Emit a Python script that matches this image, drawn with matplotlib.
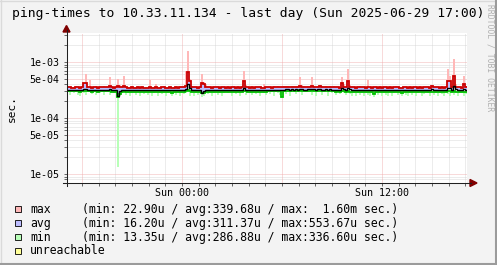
import numpy as np
import matplotlib
matplotlib.use('Agg')
import matplotlib.pyplot as plt
from matplotlib.lines import Line2D
from matplotlib.patches import Rectangle, Polygon
from matplotlib.ticker import FixedLocator, FixedFormatter, NullFormatter

W, H = 497, 265

# ---------------- data ----------------
title = "ping-times to 10.33.11.134 - last day (Sun 2025-06-29 17:00)"
ylabel = "sec."
watermark = "RRDTOOL / TOBI OETIKER"
t_start_h = -6.9      # hours relative to Sun 00:00
step_h = 0.12         # 7.2 min per sample

# microseconds
max_line = [
    352, 355, 348, 350, 356, 352, 349, 353, 420, 420, 360, 352, 350, 355, 358, 350, 353, 351, 356, 352,
    355, 377, 352, 350, 351, 370, 362, 355, 375, 352, 349, 350, 353, 348, 350, 352, 349, 351, 347, 350,
    348, 352, 350, 349, 351, 347, 350, 352, 365, 349, 348, 351, 347, 350, 352, 349, 351, 353, 355, 372,
    663, 450, 360, 355, 352, 350, 356, 422, 400, 360, 354, 352, 350, 353, 351, 355, 349, 352, 354, 350,
    352, 349, 351, 355, 350, 352, 348, 354, 452, 365, 352, 350, 353, 349, 351, 355, 352, 350, 348, 353,
    351, 354, 350, 356, 352, 358, 355, 353, 356, 360, 358, 355, 359, 357, 361, 356, 375, 360, 357, 355,
    358, 362, 377, 360, 356, 359, 368, 357, 355, 358, 356, 360, 354, 357, 352, 355, 350, 420, 365, 355,
    460, 362, 356, 353, 350, 352, 355, 351, 354, 349, 352, 356, 350, 353, 351, 349, 352, 350, 354, 351,
    350, 353, 349, 351, 355, 352, 350, 348, 353, 351, 349, 352, 350, 354, 351, 349, 353, 350, 352, 355,
    352, 350, 375, 353, 351, 354, 350, 352, 349, 353, 463, 463, 358, 570, 362, 355, 353, 350, 405, 360,
]
avg_line = [
    316, 318, 315, 317, 319, 316, 314, 317, 335, 330, 318, 316, 315, 318, 317, 314, 316, 315, 318, 316,
    317, 325, 315, 314, 316, 250, 300, 312, 322, 316, 313, 315, 317, 312, 314, 316, 313, 315, 311, 314,
    313, 316, 314, 312, 315, 311, 314, 316, 322, 313, 312, 315, 311, 314, 316, 313, 315, 317, 318, 330,
    400, 340, 322, 318, 315, 313, 318, 283, 300, 318, 316, 315, 313, 316, 314, 318, 312, 315, 317, 313,
    315, 312, 314, 318, 313, 315, 311, 317, 340, 322, 315, 313, 316, 312, 314, 318, 315, 313, 311, 316,
    314, 317, 313, 319, 316, 322, 320, 318, 321, 325, 323, 320, 324, 322, 326, 321, 335, 325, 322, 320,
    323, 327, 335, 325, 321, 324, 330, 322, 320, 323, 321, 325, 318, 321, 316, 319, 314, 345, 328, 318,
    350, 325, 319, 316, 313, 315, 318, 314, 317, 312, 315, 319, 313, 316, 314, 312, 315, 313, 317, 314,
    313, 316, 312, 314, 318, 315, 313, 311, 316, 314, 312, 315, 313, 317, 314, 312, 316, 313, 315, 318,
    315, 313, 328, 316, 314, 317, 313, 315, 312, 316, 345, 340, 320, 380, 325, 318, 316, 313, 335, 320,
]
min_line = [
    300, 302, 298, 300, 303, 299, 297, 301, 305, 303, 300, 298, 297, 300, 302, 296, 299, 298, 301, 299,
    298, 300, 296, 295, 297, 240, 270, 292, 298, 294, 291, 293, 295, 289, 292, 294, 290, 292, 288, 291,
    289, 292, 290, 287, 291, 286, 289, 292, 295, 288, 286, 290, 285, 288, 291, 287, 290, 292, 294, 300,
    310, 300, 292, 290, 288, 286, 290, 275, 285, 292, 290, 289, 287, 290, 288, 292, 286, 289, 291, 287,
    295, 292, 294, 297, 293, 295, 291, 296, 305, 299, 295, 293, 296, 292, 294, 297, 295, 293, 291, 296,
    300, 303, 298, 304, 301, 305, 303, 235, 300, 305, 303, 300, 306, 304, 308, 303, 310, 306, 303, 301,
    304, 308, 310, 305, 301, 304, 307, 302, 300, 303, 301, 305, 298, 301, 296, 299, 294, 305, 300, 297,
    305, 297, 293, 290, 287, 289, 292, 288, 291, 286, 289, 292, 287, 265, 288, 286, 289, 287, 291, 288,
    287, 290, 286, 288, 292, 289, 287, 285, 290, 288, 286, 289, 287, 291, 288, 286, 290, 287, 289, 292,
    289, 287, 295, 290, 288, 291, 287, 289, 286, 290, 300, 298, 292, 305, 294, 290, 288, 286, 296, 290,
]
max_peak = [
    358, 362, 352, 355, 375, 356, 352, 358, 430, 610, 365, 470, 356, 362, 380, 354, 358, 356, 378, 356,
    360, 533, 356, 354, 358, 497, 385, 360, 570, 356, 352, 356, 370, 352, 354, 360, 352, 358, 350, 354,
    352, 470, 356, 354, 405, 350, 354, 358, 380, 354, 352, 358, 350, 354, 358, 352, 356, 360, 380, 700,
    1600, 500, 380, 362, 358, 354, 365, 610, 440, 405, 362, 358, 354, 360, 356, 364, 352, 358, 362, 354,
    360, 354, 358, 374, 354, 360, 350, 364, 680, 390, 358, 354, 360, 352, 356, 364, 360, 354, 405, 360,
    356, 362, 354, 368, 358, 370, 362, 360, 368, 372, 370, 362, 372, 366, 376, 366, 545, 385, 370, 362,
    372, 378, 530, 376, 364, 372, 392, 366, 362, 370, 364, 374, 360, 366, 356, 362, 354, 530, 400, 362,
    750, 385, 364, 360, 354, 358, 366, 356, 362, 352, 470, 364, 354, 360, 356, 352, 358, 354, 362, 356,
    354, 360, 352, 356, 368, 358, 354, 350, 360, 356, 352, 358, 354, 362, 356, 352, 360, 354, 358, 364,
    358, 354, 395, 360, 356, 362, 354, 358, 352, 360, 750, 560, 380, 1130, 400, 364, 360, 354, 570, 372,
]
min_low = [
    292, 255, 290, 280, 294, 262, 250, 293, 285, 258, 290, 294, 268, 288, 254, 292, 282, 290, 262, 294,
    286, 258, 290, 276, 289, 13.35, 245, 284, 290, 255, 284, 250, 280, 288, 262, 286, 252, 288, 270, 286,
    256, 286, 250, 276, 288, 248, 284, 266, 290, 252, 276, 287, 246, 280, 262, 288, 250, 284, 272, 282,
    296, 252, 280, 246, 284, 262, 286, 240, 250, 286, 268, 288, 248, 280, 286, 256, 284, 246, 276, 286,
    282, 290, 250, 290, 270, 292, 248, 290, 292, 262, 290, 280, 254, 290, 270, 292, 252, 290, 278, 262,
    294, 272, 296, 252, 292, 280, 262, 225, 295, 268, 298, 250, 296, 298, 270, 299, 296, 258, 298, 290,
    294, 300, 262, 298, 252, 292, 300, 258, 286, 296, 250, 298, 276, 292, 256, 293, 266, 298, 282, 258,
    296, 268, 250, 285, 246, 284, 256, 284, 248, 280, 262, 250, 284, 240, 278, 256, 286, 248, 284, 260,
    250, 286, 246, 278, 288, 256, 284, 248, 286, 262, 246, 284, 256, 288, 248, 278, 286, 252, 270, 288,
    282, 252, 290, 260, 284, 248, 284, 268, 250, 286, 265, 250, 285, 256, 292, 252, 280, 284, 250, 270,
]

x_major = [-6, 0, 6, 12]
x_major_labels = ["", "Sun 00:00", "", "Sun 12:00"]
x_minor = list(range(-6, 18))
y_major = [1e-5, 5e-5, 1e-4, 5e-4, 1e-3]
y_major_labels = ["1e-05", "5e-05", "1e-04", "5e-04", "1e-03"]
y_minor = [7e-6, 8e-6, 9e-6, 2e-5, 3e-5, 4e-5, 6e-5, 7e-5, 8e-5, 9e-5,
           2e-4, 3e-4, 4e-4, 6e-4, 7e-4, 8e-4, 9e-4, 2e-3, 3e-3]
y_range = (6.9e-6, 3.3e-3)

legend_names = ["max", "avg", "min", "unreachable"]
legend_stats = ["(min: 22.90u / avg:339.68u / max:  1.60m sec.)",
                "(min: 16.20u / avg:311.37u / max:553.67u sec.)",
                "(min: 13.35u / avg:286.88u / max:336.60u sec.)",
                ""]
legend_colors = ["#FFB8B8", "#BDBDFF", "#B8FFB8", "#FFFF99"]

# ---------------- figure ----------------
plt.rcParams['font.family'] = ['DejaVu Sans Mono']
BG = "#F3F3F3"
fig = plt.figure(figsize=(W / 100, H / 100), dpi=100, facecolor=BG)

def fx(x):
    return x / W

def fy(y):
    return 1 - y / H

L, R, T, B = 67, 467, 33, 183
ax = fig.add_axes([fx(L), fy(B), (R - L) / W, (B - T) / H])
ax.set_facecolor("white")

n = len(max_line)
edges = t_start_h + step_h * np.arange(n + 1)
u = 1e-6
mx = np.array(max_line) * u
av = np.array(avg_line) * u
mn = np.array(min_line) * u
pk = np.array(max_peak) * u
lo = np.array(min_low) * u

ax.set_yscale('log')
ax.set_xlim(edges[0], edges[-1])
ax.set_ylim(*y_range)

# grid
gcol, mcol = "#D3D3D3", "#F0A8A8"
for h in x_minor:
    if h not in x_major:
        ax.axvline(h, color=gcol, lw=0.6, ls=(0, (1.2, 1.2)), zorder=0.5)
for h in x_major:
    ax.axvline(h, color=mcol, lw=0.6, ls=(0, (1.2, 1.2)), zorder=0.6)
for v in y_minor:
    ax.axhline(v, color=gcol, lw=0.6, ls=(0, (1.2, 1.2)), zorder=0.5)
for v in y_major:
    ax.axhline(v, color=mcol, lw=0.6, ls=(0, (1.2, 1.2)), zorder=0.6)

# areas
ax.stairs(pk, edges, baseline=mx, fill=True, color="#FFB8B8", lw=0, zorder=2)
ax.stairs(mn, edges, baseline=lo, fill=True, color="#B8FFB8", lw=0, zorder=2)
ax.stairs(mx, edges, baseline=av, fill=True, color="#BDBDFF", lw=0, zorder=2)
# lines
ax.stairs(mn, edges, baseline=None, color="#00C000", lw=1.3, zorder=3)
ax.stairs(mx, edges, baseline=None, color="#CC0000", lw=1.3, zorder=3)
ax.stairs(av, edges, baseline=None, color="#000000", lw=1.0, zorder=4)

# ticks
ax.xaxis.set_major_locator(FixedLocator(x_major))
ax.xaxis.set_major_formatter(FixedFormatter(x_major_labels))
ax.xaxis.set_minor_locator(FixedLocator(x_minor))
ax.xaxis.set_minor_formatter(NullFormatter())
ax.yaxis.set_major_locator(FixedLocator(y_major))
ax.yaxis.set_major_formatter(FixedFormatter(y_major_labels))
ax.yaxis.set_minor_locator(FixedLocator(y_minor))
ax.yaxis.set_minor_formatter(NullFormatter())
ax.tick_params(axis='both', which='both', direction='out', length=2,
               width=0.6, color="#505050", labelsize=7.2, labelcolor="black")
ax.tick_params(axis='y', which='major', pad=3.3)
ax.tick_params(axis='x', which='major', pad=1.8)
for s in ax.spines.values():
    s.set_visible(False)

# axis lines and arrows (figure pixel coords)
axc = "#202020"
fig.add_artist(Line2D([fx(63), fx(471)], [fy(183), fy(183)], color=axc, lw=0.75))
fig.add_artist(Line2D([fx(66.5), fx(66.5)], [fy(186), fy(30)], color=axc, lw=0.75))
arc = "#7F0000"
fig.add_artist(Polygon([(fx(470), fy(179.5)), (fx(477), fy(183)), (fx(470), fy(186.5))],
                       closed=True, color=arc, transform=fig.transFigure))
fig.add_artist(Polygon([(fx(63), fy(32)), (fx(66.5), fy(25.5)), (fx(70), fy(32))],
                       closed=True, color=arc, transform=fig.transFigure))

# texts
fig.text(fx(248), fy(13.5), title, ha='center', va='center', fontsize=9.4, color='black')
fig.text(fx(11.5), fy(108), ylabel, ha='center', va='center', rotation=90, fontsize=8, color='black')
fig.text(fx(490), fy(4), watermark, ha='center', va='top', rotation=270, fontsize=5.8, color='#B0B0B0')

# legend
rows_y = [209.3, 223.3, 237.3, 251]
for name, stat, col, yy in zip(legend_names, legend_stats, legend_colors, rows_y):
    fig.add_artist(Rectangle((fx(15), fy(yy + 3)), 6 / W, 6 / H, transform=fig.transFigure,
                             facecolor=col, edgecolor='black', lw=0.6))
    fig.text(fx(30), fy(yy), name, ha='left', va='center', fontsize=8.3, color='black')
    if stat:
        fig.text(fx(81.5), fy(yy), stat, ha='left', va='center', fontsize=8.3, color='black')

# frame shading
fig.add_artist(Line2D([0, 1], [fy(0.5), fy(0.5)], color="#DADADA", lw=1))
fig.add_artist(Line2D([fx(0.5), fx(0.5)], [0, 1], color="#DADADA", lw=1))
fig.add_artist(Line2D([0, 1], [fy(264), fy(264)], color="#9B9B9B", lw=1.5))
fig.add_artist(Line2D([fx(496), fx(496)], [0, 1], color="#9B9B9B", lw=1.5))

fig.savefig("out.png", dpi=100, facecolor=BG)
